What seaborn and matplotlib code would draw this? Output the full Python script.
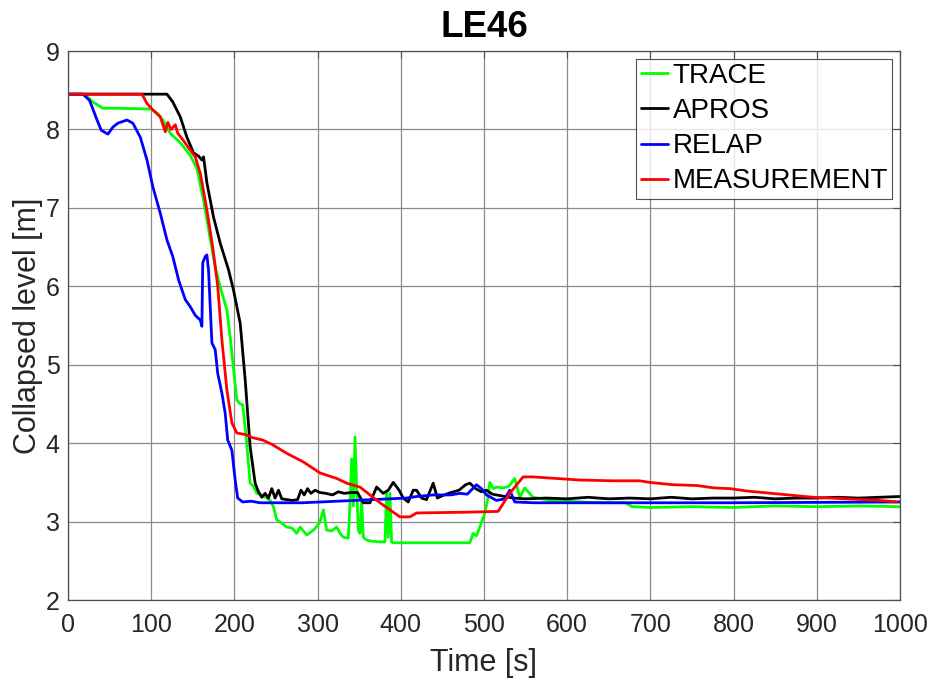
import numpy as np
import pandas as pd
import matplotlib
matplotlib.use("Agg")
import matplotlib.pyplot as plt
import seaborn as sns

# TRACE simulation
trace_t = [0, 20, 30, 42, 60, 100, 108, 114, 123, 135, 147, 155, 163, 171, 177, 183, 191, 195, 199,
           203, 207, 210, 214, 219, 223, 227, 235, 243, 247, 251, 257, 263, 269, 275, 279, 283, 287,
           291, 295, 300, 303, 307, 311, 317, 323, 327, 331, 337, 339, 341, 343, 345, 347, 349, 351,
           353, 355, 357, 360, 365, 375, 381, 383, 385, 387, 389, 391, 400, 440, 483, 487, 491, 495,
           501, 505, 507, 511, 515, 523, 530, 537, 543, 549, 559, 580, 639, 670, 678, 700, 750, 800,
           850, 900, 950, 1000]
trace_v = [8.45, 8.45, 8.35, 8.27, 8.27, 8.26, 8.20, 8.12, 7.95, 7.83, 7.67, 7.50, 7.10, 6.60, 6.25,
           5.99, 5.70, 5.35, 4.95, 4.55, 4.50, 4.49, 4.10, 3.49, 3.45, 3.36, 3.33, 3.27, 3.19, 3.02,
           2.98, 2.93, 2.92, 2.85, 2.93, 2.88, 2.83, 2.86, 2.89, 2.95, 3.00, 3.15, 2.89, 2.88, 2.93,
           2.85, 2.80, 2.79, 3.24, 3.80, 3.20, 4.08, 3.44, 2.89, 2.85, 3.27, 2.80, 2.78, 2.76, 2.75,
           2.74, 2.74, 3.36, 2.80, 3.36, 2.74, 2.73, 2.73, 2.73, 2.73, 2.85, 2.82, 2.93, 3.11, 3.31,
           3.50, 3.42, 3.44, 3.43, 3.45, 3.55, 3.31, 3.43, 3.31, 3.27, 3.24, 3.24, 3.19, 3.18, 3.19,
           3.18, 3.20, 3.19, 3.20, 3.19]

# APROS simulation
apros_t = [0, 119, 126, 135, 143, 151, 157, 161, 163, 167, 175, 183, 193, 199, 207, 213, 219, 225,
           229, 233, 237, 241, 245, 249, 253, 257, 263, 270, 276, 280, 284, 288, 292, 297, 303, 310,
           318, 325, 332, 340, 348, 355, 363, 371, 379, 385, 391, 398, 403, 409, 415, 419, 425, 431,
           439, 444, 450, 460, 470, 478, 483, 490, 497, 503, 510, 520, 535, 550, 575, 600, 625, 650,
           675, 700, 725, 750, 775, 800, 825, 850, 875, 900, 925, 950, 975, 1000]
apros_v = [8.45, 8.45, 8.35, 8.16, 7.90, 7.70, 7.66, 7.61, 7.65, 7.32, 6.88, 6.55, 6.21, 5.95, 5.53,
           4.81, 3.95, 3.49, 3.38, 3.31, 3.36, 3.30, 3.42, 3.30, 3.40, 3.29, 3.28, 3.27, 3.28, 3.40,
           3.34, 3.42, 3.36, 3.40, 3.37, 3.36, 3.34, 3.38, 3.36, 3.37, 3.37, 3.24, 3.24, 3.44, 3.36,
           3.40, 3.50, 3.40, 3.30, 3.25, 3.40, 3.40, 3.30, 3.28, 3.49, 3.30, 3.33, 3.37, 3.40, 3.47,
           3.49, 3.42, 3.38, 3.40, 3.35, 3.33, 3.30, 3.29, 3.30, 3.29, 3.31, 3.29, 3.30, 3.29, 3.31,
           3.29, 3.30, 3.30, 3.31, 3.29, 3.30, 3.30, 3.31, 3.30, 3.31, 3.32]

# RELAP simulation
relap_t = [0, 18, 26, 35, 40, 48, 54, 60, 71, 78, 87, 95, 102, 111, 119, 126, 133, 141, 147, 153,
           159, 161, 162, 165, 167, 169, 171, 173, 177, 180, 185, 189, 192, 197, 201, 204, 210, 220,
           231, 282, 345, 407, 419, 439, 460, 471, 480, 491, 497, 503, 515, 525, 531, 537, 560, 639,
           800, 1000]
relap_v = [8.45, 8.45, 8.37, 8.12, 7.99, 7.94, 8.03, 8.08, 8.12, 8.08, 7.90, 7.61, 7.27, 6.93, 6.59,
           6.38, 6.08, 5.83, 5.74, 5.63, 5.57, 5.49, 6.30, 6.38, 6.40, 6.20, 5.74, 5.28, 5.19, 4.89,
           4.64, 4.38, 4.04, 3.91, 3.53, 3.30, 3.25, 3.26, 3.24, 3.24, 3.27, 3.30, 3.32, 3.34, 3.34,
           3.36, 3.35, 3.47, 3.42, 3.34, 3.27, 3.29, 3.40, 3.25, 3.24, 3.24, 3.24, 3.25]

# Measured collapsed level
meas_t = [0, 89, 95, 102, 111, 117, 120, 124, 129, 132, 138, 144, 153, 159, 162, 167, 174, 180, 185,
          191, 197, 203, 213, 222, 234, 246, 263, 283, 303, 323, 335, 351, 363, 375, 387, 399, 411,
          419, 480, 517, 531, 547, 559, 615, 655, 687, 699, 727, 756, 776, 796, 816, 856, 896, 936,
          976, 996]
meas_v = [8.45, 8.45, 8.33, 8.25, 8.16, 7.97, 8.09, 8.00, 8.06, 7.95, 7.87, 7.78, 7.65, 7.44, 7.27,
          6.97, 6.50, 6.00, 5.32, 4.68, 4.26, 4.13, 4.11, 4.07, 4.04, 3.98, 3.87, 3.76, 3.62, 3.55,
          3.49, 3.44, 3.34, 3.24, 3.15, 3.06, 3.06, 3.11, 3.12, 3.13, 3.36, 3.57, 3.57, 3.53, 3.52,
          3.52, 3.50, 3.47, 3.46, 3.43, 3.42, 3.39, 3.35, 3.31, 3.29, 3.27, 3.25]

series_names = ["TRACE", "APROS", "RELAP", "MEASUREMENT"]
series_colors = ["#00ff00", "#000000", "#0000ff", "#ff0000"]
x_ticks = list(range(0, 1001, 100))
y_ticks = list(range(2, 10))

frames = []
for name, t, v in zip(series_names,
                      [trace_t, apros_t, relap_t, meas_t],
                      [trace_v, apros_v, relap_v, meas_v]):
    frames.append(pd.DataFrame({"Time": t, "Level": v, "Source": name}))
df = pd.concat(frames, ignore_index=True)

sns.set_theme(style="white")
plt.rcParams["font.family"] = ["Liberation Sans", "DejaVu Sans"]

fig = plt.figure(figsize=(9.36, 6.82), dpi=100)
ax = fig.add_axes([0.0726, 0.1202, 0.8889, 0.8050])

sns.lineplot(data=df, x="Time", y="Level", hue="Source", hue_order=series_names,
             palette=dict(zip(series_names, series_colors)), linewidth=2.0,
             sort=False, estimator=None, ax=ax)

ax.set_xlim(0, 1000)
ax.set_ylim(2, 9)
ax.set_xticks(x_ticks)
ax.set_yticks(y_ticks)
ax.grid(True, color="#8a8a8a", linewidth=0.9)
ax.set_axisbelow(True)
for sp in ax.spines.values():
    sp.set_color("#4d4d4d")
    sp.set_linewidth(0.9)
ax.tick_params(axis="both", which="both", direction="in", length=5, width=0.8,
               colors="#4d4d4d", labelcolor="#262626", labelsize=18,
               top=True, right=True)
ax.tick_params(axis="x", pad=9)
ax.tick_params(axis="y", pad=6)

ax.set_xlabel("Time [s]", fontsize=22, color="#262626", labelpad=8)
ax.set_ylabel("Collapsed level [m]", fontsize=22, color="#262626", labelpad=2)
ax.set_title("LE46", fontsize=26.5, fontweight="bold", color="black", pad=10)

leg = ax.legend(loc="upper right", fontsize=20, frameon=True, fancybox=False,
                edgecolor="#262626", handlelength=1.0, handletextpad=0.15,
                borderpad=0.16, labelspacing=0.33, borderaxespad=0.27,
                labelcolor="black")
leg.get_frame().set_linewidth(0.8)
leg.set_title(None)

fig.savefig("out.png", dpi=100, facecolor="white")
